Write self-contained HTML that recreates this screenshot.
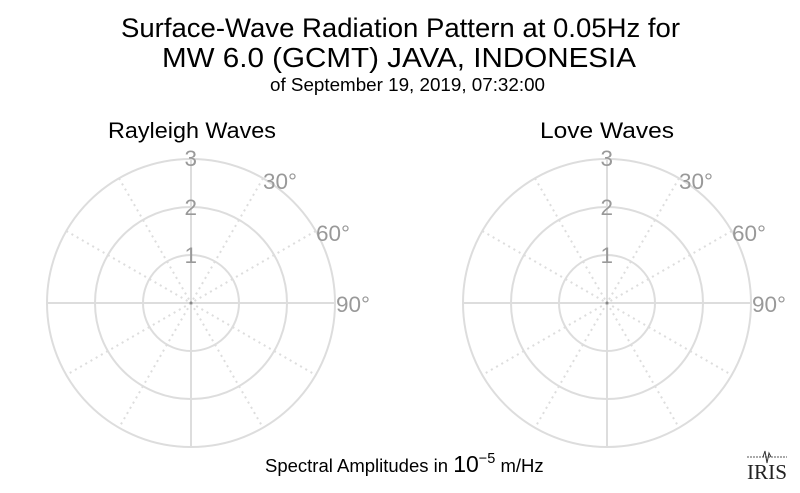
<!DOCTYPE html>
<html><head><style>body{margin:0;background:#fff}svg{display:block}</style></head><body>
<svg width="800" height="493" xmlns="http://www.w3.org/2000/svg" font-family="Liberation Sans, sans-serif">
<rect width="800" height="493" fill="#fff"/>
<text x="121" y="37" font-size="27" textLength="559" lengthAdjust="spacingAndGlyphs" fill="#000">Surface-Wave Radiation Pattern at 0.05Hz for</text>
<text x="162" y="67" font-size="28" textLength="474" lengthAdjust="spacingAndGlyphs" fill="#000">MW 6.0 (GCMT) JAVA, INDONESIA</text>
<text x="270" y="91" font-size="18" textLength="275" lengthAdjust="spacingAndGlyphs" fill="#000">of September 19, 2019, 07:32:00</text>
<text x="108" y="138" font-size="22" textLength="168" lengthAdjust="spacingAndGlyphs">Rayleigh Waves</text>
<text x="540" y="138" font-size="22" textLength="134" lengthAdjust="spacingAndGlyphs">Love Waves</text>
<g id="p" transform="translate(191,303)" stroke="#ddd" fill="none" stroke-width="2">
<circle r="48"/><circle r="96"/><circle r="144"/>
<line x1="-144" y1="0" x2="144" y2="0"/><line x1="0" y1="-144" x2="0" y2="144"/>
<g stroke-dasharray="2,4">
<line x1="-72" y1="-124.7" x2="72" y2="124.7"/><line x1="72" y1="-124.7" x2="-72" y2="124.7"/>
<line x1="-124.7" y1="-72" x2="124.7" y2="72"/><line x1="124.7" y1="-72" x2="-124.7" y2="72"/>
</g>
<circle r="1.5" fill="#888" stroke="none"/>
<g fill="#999" stroke="none" font-size="22.5">
<text x="-6.5" y="-137">3</text><text x="-6.5" y="-88">2</text><text x="-6.5" y="-40">1</text>
<text x="72" y="-114">30°</text><text x="125" y="-62">60°</text><text x="145" y="9">90°</text>
</g>
</g>
<use href="#p" transform="translate(416,0)"/>
<text x="265" y="472" font-size="18.5">Spectral Amplitudes in <tspan font-size="23">10</tspan><tspan font-size="14.5" dy="-9">−5</tspan><tspan dy="9"> m/Hz</tspan></text>
<g transform="translate(747,452)">
<line x1="0" y1="5" x2="40" y2="5" stroke="#555" stroke-dasharray="2,1"/>
<path d="M16 5 L18 -1 L20 11 L22 1 L24 5" stroke="#333" fill="none"/>
<text x="0" y="27" font-size="21" font-family="Liberation Serif, serif" textLength="40" lengthAdjust="spacingAndGlyphs" fill="#222">IRIS</text>
</g>
</svg>
</body></html>
